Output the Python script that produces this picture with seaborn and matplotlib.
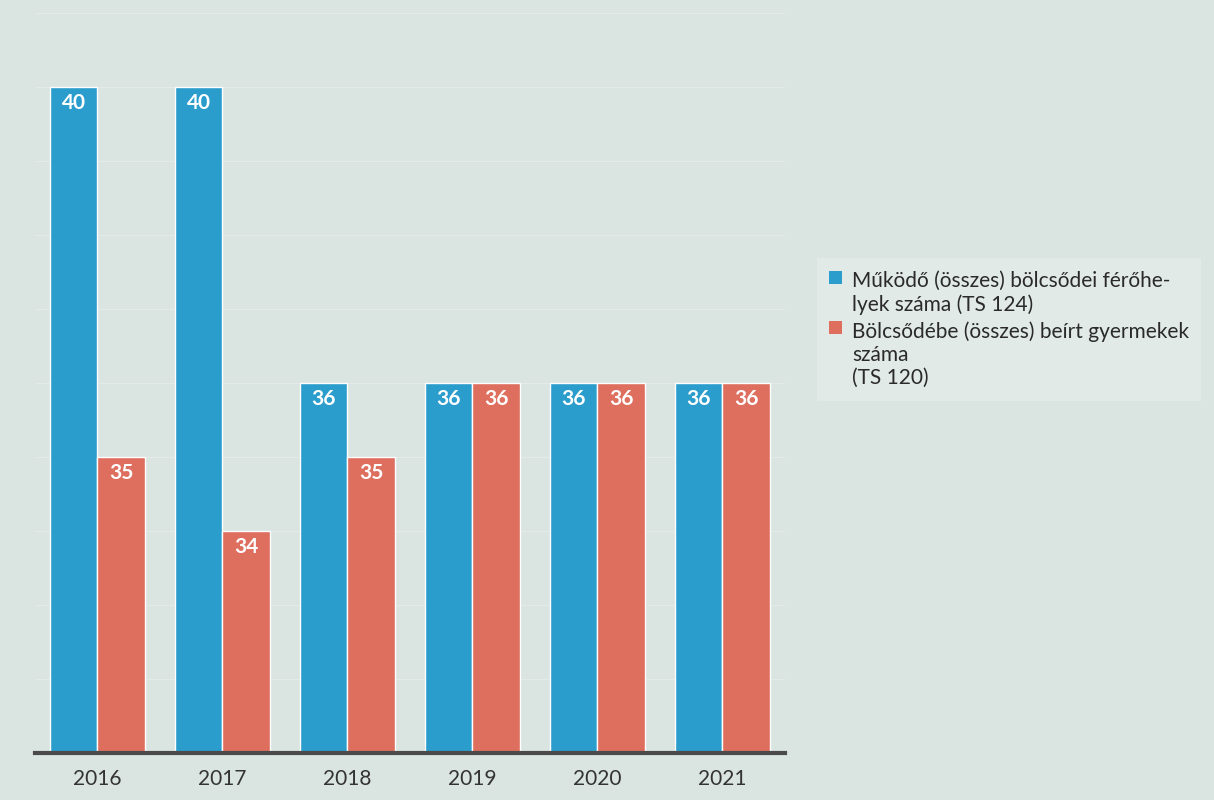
import pandas as pd
import numpy as np
import seaborn as sns
import matplotlib.pyplot as plt

years = ['2016', '2017', '2018', '2019', '2020', '2021']
ferohelyek = [40, 40, 36, 36, 36, 36]
beirt = [35, 34, 35, 36, 36, 36]
series_names = ['Működő (összes) bölcsődei férőhe-\nlyek száma (TS 124)',
                'Bölcsődébe (összes) beírt gyermekek\nszáma\n(TS 120)']

df = pd.DataFrame({
    'year': years * 2,
    'value': ferohelyek + beirt,
    'series': [series_names[0]] * len(years) + [series_names[1]] * len(years),
})

bg = '#dae4e1'
sns.set_style('white')
plt.rcParams['font.family'] = ['Lato', 'DejaVu Sans']

fig = plt.figure(figsize=(12.14, 8), dpi=100, facecolor=bg)
ax = fig.add_axes([0.0288, 0.0588, 0.6178, 0.925])
ax.set_facecolor(bg)

palette = ['#2b9dcc', '#de6f5e']
sns.barplot(data=df, x='year', y='value', hue='series', palette=palette,
            width=0.76, edgecolor='white', linewidth=1, saturation=1, ax=ax)

ax.set_ylim(31, 41)
ax.set_xlim(-0.5, 5.5)
ax.set_yticks(np.arange(31, 42, 1))
ax.yaxis.grid(True, color='#e3eae7', linewidth=0.8)
ax.set_axisbelow(True)
ax.tick_params(axis='y', left=False, labelleft=False)
ax.tick_params(axis='x', bottom=False, labelsize=15, colors='#333333', pad=8)
ax.set_xlabel('')
ax.set_ylabel('')
for s in ['top', 'right', 'left']:
    ax.spines[s].set_visible(False)
ax.spines['bottom'].set_color('#4a4a4a')
ax.spines['bottom'].set_linewidth(3)

# value labels inside the top of each bar
for cont in ax.containers:
    for bar in cont:
        h = bar.get_height()
        ax.annotate(f'{h:.0f}', (bar.get_x() + bar.get_width() / 2, h),
                    xytext=(0, -11.5), textcoords='offset points',
                    ha='center', va='center', color='white',
                    fontsize=15, fontweight='bold')

handles, labels = ax.get_legend_handles_labels()
leg = ax.legend(handles, labels, loc='upper left', bbox_to_anchor=(0.664, 0.69),
                bbox_transform=fig.transFigure, frameon=True, fontsize=15,
                handlelength=0.6, handleheight=0.6, handletextpad=0.5,
                labelspacing=0.3, borderpad=0.6, fancybox=False)
leg.get_frame().set_facecolor('#e4ece9')
leg.get_frame().set_edgecolor('none')
for t in leg.get_texts():
    t.set_color('#2a2a2a')
for hnd in leg.legend_handles:
    hnd.set_edgecolor('none')
# put the colour squares next to the first line of each label
for col in leg._legend_handle_box.get_children():
    for item in col.get_children():
        item.align = 'top'

fig.savefig('out.png', dpi=100, facecolor=bg)
